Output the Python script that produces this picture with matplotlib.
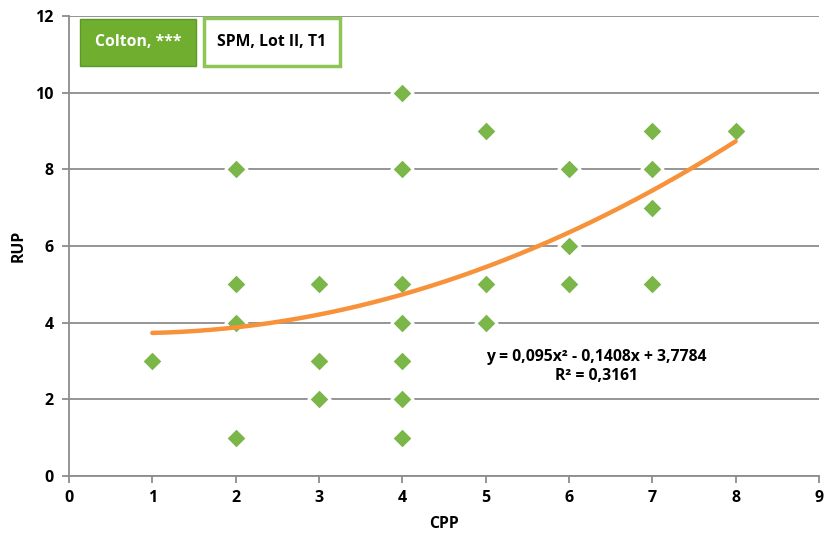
import numpy as np
import matplotlib.pyplot as plt
from matplotlib.patches import Rectangle

cpp = [1, 2, 2, 2, 2, 3, 3, 3, 4, 4, 4, 4, 4, 4, 4, 5, 5, 5, 6, 6, 6, 7, 7, 7, 7, 8]
rup = [3, 1, 4, 5, 8, 2, 3, 5, 1, 2, 3, 4, 5, 8, 10, 4, 5, 9, 5, 6, 8, 5, 7, 8, 9, 9]
coef = [0.095, -0.1408, 3.7784]
eq_text = "y = 0,095x² - 0,1408x + 3,7784\nR² = 0,3161"
x_ticks = list(range(0, 10))
y_ticks = list(range(0, 13, 2))

plt.rcParams['font.family'] = ['Open Sans', 'DejaVu Sans']
plt.rcParams['font.weight'] = 'bold'

fig = plt.figure(figsize=(8.24, 5.35), dpi=100)
ax = fig.add_axes([0.0837, 0.1103, 0.9102, 0.8597])
ax.set_xlim(0, 9)
ax.set_ylim(0, 12)
ax.set_xticks(x_ticks)
ax.set_yticks(y_ticks)
ax.grid(axis='y', color='#8c8c8c', lw=1.3, zorder=0)
for s in ['top', 'right']:
    ax.spines[s].set_visible(False)
for s in ['left', 'bottom']:
    ax.spines[s].set_color('#8c8c8c')
    ax.spines[s].set_linewidth(1.3)
ax.tick_params(axis='both', colors='#8c8c8c', length=5, width=1.3, labelcolor='black', labelsize=11.5)
ax.tick_params(axis='x', pad=5)
ax.tick_params(axis='y', pad=6)
for lab in ax.get_xticklabels() + ax.get_yticklabels():
    lab.set_fontweight('bold')

ax.scatter(cpp, rup, marker='D', s=120, c='#7ab648', edgecolors='white', linewidths=2.0, zorder=3)

xs = np.linspace(1, 8, 200)
ys = np.polyval(coef, xs)
ax.plot(xs, ys, color='#f7923a', lw=3.2, zorder=4, solid_capstyle='round')

ax.text(6.33, 2.86, eq_text, ha='center', va='center', fontsize=11.3, fontweight='bold',
        linespacing=1.3, zorder=5)

ax.set_xlabel('CPP', fontsize=11.3, fontweight='bold', labelpad=7)
ax.set_ylabel('RUP', fontsize=11.3, fontweight='bold', labelpad=6)

# Boxes
b1 = Rectangle((80 / 824, 1 - 66 / 535), 116 / 824, 47 / 535,
               transform=fig.transFigure, facecolor='#6fae2f', edgecolor='#5a9a25', lw=1, zorder=6)
fig.patches.append(b1)
fig.text(138 / 824, 1 - 42 / 535, 'Colton, ***', color='white', fontsize=11.3, fontweight='bold',
         ha='center', va='center', zorder=7)
b2 = Rectangle((204 / 824, 1 - 66 / 535), 136 / 824, 48 / 535, transform=fig.transFigure,
               facecolor='white', edgecolor='#8dc655', lw=2.5, zorder=6)
fig.patches.append(b2)
fig.text(272 / 824, 1 - 42 / 535, 'SPM, Lot II, T1', color='black', fontsize=11.3, fontweight='bold',
         ha='center', va='center', zorder=7)

fig.savefig('out.png', dpi=100)
